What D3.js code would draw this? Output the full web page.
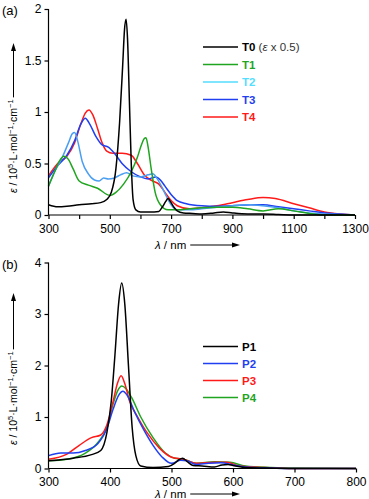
<!DOCTYPE html>
<meta charset="utf-8">
<style>
body { margin: 0; background: #fff; }
text { font-family: "Liberation Sans", Arial, sans-serif; }
.axis path, .axis line { stroke: #000; stroke-width: 1.2; }
.axis text { font-size: 12px; fill: #000; }
</style>
<svg width="369" height="499"></svg>
<script src="https://d3js.org/d3.v7.min.js"></script>
<script>

// panel (a) : wavelength (nm), epsilon (1e5 L/mol/cm)
var wlT0 = [300,330,360,400,440,470,490,505,520,532,542,548,553,558,564,570,576,585,600,630,660,672,682,690,698,708,720,740,770,800,840,870,900,950,1000,1050,1100,1200,1300];
var T0   = [0.10,0.08,0.085,0.10,0.11,0.12,0.15,0.22,0.45,0.9,1.45,1.8,1.9,1.7,1.1,0.5,0.15,0.05,0.03,0.03,0.035,0.08,0.13,0.16,0.13,0.08,0.04,0.02,0.015,0.01,0.02,0.03,0.02,0.01,0.01,0.005,0,0,0];
var wlT1 = [300,320,335,350,365,380,400,430,460,500,520,545,570,590,603,612,618,625,635,648,665,690,720,760,800,850,900,950,1000,1050,1100,1150,1200,1300];
var T1   = [0.28,0.42,0.52,0.57,0.54,0.45,0.33,0.29,0.26,0.19,0.22,0.3,0.42,0.56,0.68,0.74,0.75,0.66,0.45,0.22,0.1,0.05,0.05,0.06,0.07,0.075,0.075,0.06,0.04,0.06,0.04,0.015,0,0];
var wlT2 = [300,320,345,365,378,385,395,410,430,450,465,480,495,515,535,555,575,600,625,640,655,670,685,700,720,760,800,850,900,960,1000,1050,1100,1200,1300];
var T2   = [0.28,0.42,0.56,0.7,0.79,0.8,0.72,0.52,0.4,0.34,0.33,0.36,0.35,0.36,0.39,0.41,0.38,0.37,0.39,0.4,0.35,0.27,0.18,0.1,0.05,0.05,0.06,0.075,0.09,0.1,0.09,0.07,0.04,0.01,0];
var wlT3 = [300,330,360,385,405,420,435,455,475,495,515,540,570,600,625,650,665,680,700,720,750,800,850,900,960,1000,1050,1100,1150,1200,1250,1300];
var T3   = [0.36,0.48,0.58,0.72,0.88,0.94,0.88,0.76,0.68,0.66,0.6,0.5,0.42,0.37,0.35,0.37,0.34,0.28,0.2,0.14,0.11,0.09,0.085,0.09,0.1,0.1,0.08,0.06,0.04,0.02,0.01,0];
var wlT4 = [300,330,360,385,405,420,432,445,460,475,490,510,540,570,590,615,640,660,680,700,720,760,800,850,900,950,1000,1040,1100,1150,1200,1250,1300];
var T4   = [0.38,0.5,0.57,0.7,0.88,0.99,1.02,0.97,0.84,0.7,0.62,0.6,0.6,0.58,0.5,0.38,0.33,0.3,0.22,0.14,0.09,0.06,0.07,0.09,0.12,0.15,0.17,0.16,0.11,0.07,0.03,0.01,0];

// panel (b)
var wlP1 = [300,340,370,385,395,402,408,414,419,424,430,436,442,450,470,495,505,512,518,525,535,550,570,582,592,600,620,650,700,800];
var P1   = [0.15,0.2,0.27,0.35,0.7,1.3,2.2,3.2,3.6,3.2,2.0,0.8,0.25,0.05,0.02,0.04,0.1,0.17,0.2,0.14,0.06,0.05,0.03,0.07,0.08,0.06,0.02,0.01,0,0];
var wlP2 = [300,320,340,360,380,395,405,414,421,428,440,455,470,485,500,515,525,540,560,580,600,620,660,700,800];
var P2   = [0.25,0.3,0.3,0.35,0.48,0.78,1.15,1.42,1.5,1.42,1.1,0.75,0.45,0.22,0.1,0.16,0.15,0.08,0.1,0.11,0.07,0.03,0.01,0,0];
var wlP3 = [300,330,350,370,385,395,405,412,418,424,432,445,460,480,500,520,540,570,590,610,650,700,800];
var P3   = [0.18,0.28,0.45,0.6,0.65,0.85,1.3,1.65,1.8,1.65,1.3,1.0,0.7,0.4,0.22,0.18,0.1,0.12,0.12,0.05,0.02,0,0];
var wlP4 = [300,330,360,380,395,405,413,419,426,435,450,470,490,505,520,540,570,595,620,660,700,800];
var P4   = [0.15,0.18,0.3,0.5,0.8,1.25,1.52,1.6,1.55,1.38,1.0,0.6,0.3,0.2,0.18,0.1,0.13,0.12,0.05,0.02,0.01,0];

var seriesA = [
  {name: "T0", wl: wlT0, v: T0, color: "#000000", key: "#000000"},
  {name: "T1", wl: wlT1, v: T1, color: "#1fa51f", key: "#1fa51f"},
  {name: "T2", wl: wlT2, v: T2, color: "#4a9ef2", key: "#55ddff"},
  {name: "T3", wl: wlT3, v: T3, color: "#1f3ff0", key: "#1f3ff0"},
  {name: "T4", wl: wlT4, v: T4, color: "#ff1a1a", key: "#ff1a1a"}
];
var seriesB = [
  {name: "P1", wl: wlP1, v: P1, color: "#000000", key: "#000000"},
  {name: "P2", wl: wlP2, v: P2, color: "#1f3ff0", key: "#1f3ff0"},
  {name: "P3", wl: wlP3, v: P3, color: "#ff1a1a", key: "#ff1a1a"},
  {name: "P4", wl: wlP4, v: P4, color: "#1fa51f", key: "#1fa51f"}
];

var svg = d3.select("svg");

function panel(opt) {
  var x = d3.scaleLinear().domain(opt.xd).range([48.5, opt.xr]);
  var y = d3.scaleLinear().domain(opt.yd).range([opt.y0, opt.y1]);
  var g = svg.append("g");

  g.append("text").attr("x", 2).attr("y", opt.y1 + 6).attr("font-size", 13).text(opt.label);

  var line = d3.line()
      .x(function(d) { return x(d[0]); })
      .y(function(d) { return y(d[1]); })
      .curve(d3.curveMonotoneX);

  // draw in reverse so the first series sits on top
  opt.series.slice().reverse().forEach(function(s) {
    g.append("path")
        .datum(d3.zip(s.wl, s.v))
        .attr("fill", "none")
        .attr("stroke", s.color)
        .attr("stroke-width", 1.5)
        .attr("d", line);
  });

  g.append("g").attr("class", "axis")
      .attr("transform", "translate(0," + opt.y0 + ")")
      .call(d3.axisBottom(x).tickValues(opt.xticks).tickSize(4).tickPadding(5)
        .tickFormat(function(d) { return opt.xlabels.indexOf(d) >= 0 ? d : ""; }))
      .call(function(a) { a.select(".domain").attr("d", "M48.5,0H" + opt.xr); });

  g.append("g").attr("class", "axis")
      .attr("transform", "translate(48.5,0)")
      .call(d3.axisLeft(y).tickValues(opt.yticks).tickSize(4).tickPadding(3).tickFormat(d3.format("")))
      .call(function(a) { a.select(".domain").attr("d", "M0," + opt.y0 + "V" + opt.y1); });

  // y title with arrow
  var yt = g.append("text")
      .attr("transform", "translate(17," + opt.ytY + ") rotate(-90)")
      .attr("font-size", 10.5);
  yt.append("tspan").attr("font-style", "italic").text("ε");
  yt.append("tspan").text(" / 10");
  yt.append("tspan").attr("font-size", 7.5).attr("dy", -4).text("5");
  yt.append("tspan").attr("dy", 4).text("·L·mol");
  yt.append("tspan").attr("font-size", 7.5).attr("dy", -4).text("−1");
  yt.append("tspan").attr("dy", 4).text("·cm");
  yt.append("tspan").attr("font-size", 7.5).attr("dy", -4).text("−1");
  var len = yt.node().getComputedTextLength();
  var top = opt.ytY - len - 2;
  g.append("line").attr("x1", 13.5).attr("x2", 13.5).attr("y1", top).attr("y2", opt.arrowY + 6)
      .attr("stroke", "#000").attr("stroke-width", 1);
  g.append("path").attr("d", "M13.5," + opt.arrowY + "L11," + (opt.arrowY + 8) + "L16," + (opt.arrowY + 8) + "Z");

  // x title with arrow
  var xt = g.append("text").attr("x", 155).attr("y", opt.xtY).attr("font-size", 11.5);
  xt.append("tspan").attr("font-style", "italic").text("λ");
  xt.append("tspan").text(" / nm");
  var xl = xt.node().getComputedTextLength();
  g.append("line").attr("x1", 155 + xl + 4).attr("x2", 233).attr("y1", opt.xtY - 4).attr("y2", opt.xtY - 4)
      .attr("stroke", "#000").attr("stroke-width", 1);
  g.append("path").attr("d", "M240," + (opt.xtY - 4) + "L232," + (opt.xtY - 6.5) + "L232," + (opt.xtY - 1.5) + "Z");

  // legend
  opt.series.forEach(function(s, i) {
    var ly = opt.legY + i * opt.legStep;
    g.append("line").attr("x1", 203).attr("x2", 238).attr("y1", ly).attr("y2", ly)
        .attr("stroke", s.key).attr("stroke-width", 1.5);
    var t = g.append("text").attr("x", 242).attr("y", ly + 4).attr("font-size", 11.5).attr("fill", s.key);
    t.append("tspan").attr("font-weight", "bold").text(s.name);
    if (s.name === "T0") {
      t.append("tspan").attr("fill", "#333").text(" (");
      t.append("tspan").attr("fill", "#333").attr("font-style", "italic").text("ε");
      t.append("tspan").attr("fill", "#333").text(" x 0.5)");
    }
  });
}

panel({
  label: "(a)", series: seriesA,
  xd: [300, 1300], xr: 355, yd: [0, 2], y0: 215, y1: 9,
  xticks: d3.range(300, 1301, 100), xlabels: [300, 500, 700, 900, 1100, 1300],
  yticks: [0, 0.5, 1, 1.5, 2],
  ytY: 193, arrowY: 43, xtY: 249, legY: 47, legStep: 17.5
});

panel({
  label: "(b)", series: seriesB,
  xd: [300, 800], xr: 356, yd: [0, 4], y0: 468.5, y1: 262.5,
  xticks: d3.range(300, 801, 100), xlabels: d3.range(300, 801, 100),
  yticks: [0, 1, 2, 3, 4],
  ytY: 445, arrowY: 293, xtY: 498, legY: 346.5, legStep: 17
});

</script>
